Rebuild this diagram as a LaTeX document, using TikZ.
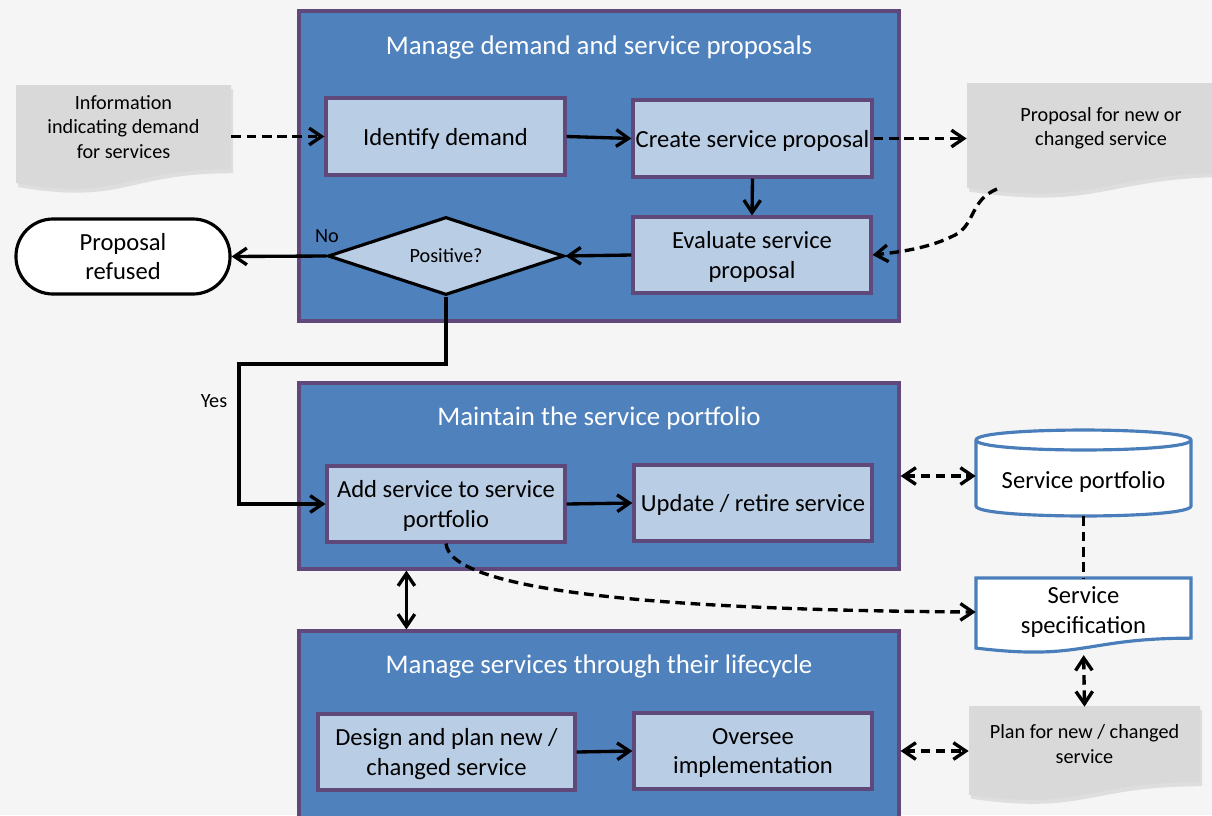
\documentclass[tikz,border=0pt]{standalone}
\usepackage{fontspec}
\setmainfont{Carlito}
\usetikzlibrary{shapes.geometric,arrows.meta}
\definecolor{bgc}{HTML}{F5F5F5}
\definecolor{blu}{HTML}{4F81BD}
\definecolor{purp}{HTML}{5F497A}
\definecolor{lblu}{HTML}{B9CDE5}
\definecolor{sblue}{HTML}{4A7EBB}
\definecolor{docg}{HTML}{D9D9D9}
\newcommand\docshape[5]{%
  \path[#5] (#1,#2) -- (#3,#2) -- (#3,{#2+0.802*#4})
    .. controls ({(#1+#3)/2},{#2+0.802*#4}) and ({(#1+#3)/2},{#2+1.108*#4}) ..
    (#1,{#2+0.934*#4}) -- cycle;}
\tikzset{barb/.tip={Straight Barb[length=7pt,width=9.5pt]}}
\begin{document}
\begin{tikzpicture}[x=0.02cm,y=-0.02cm,
  sz/.style 2 args={minimum width=#1*0.02cm,minimum height=#2*0.02cm},
  bigbox/.style={draw=purp,fill=blu,line width=1.8pt},
  stepbox/.style={draw=purp,fill=lblu,line width=1.8pt,align=center,font=\fontsize{14}{17}\selectfont,inner sep=0pt,text depth=-1pt},
  steptext/.style={align=center,font=\fontsize{14}{17}\selectfont,inner sep=0pt},
  titletext/.style={text=white,font=\fontsize{15.3}{18}\selectfont},
  smalltxt/.style={align=center,font=\fontsize{11.5}{13.8}\selectfont,inner sep=0pt},
  ghost/.style={inner sep=0pt,draw=none},
  flow/.style={line width=1.9pt,-barb},
  dflow/.style={line width=1.9pt,-barb,dash pattern=on 5.5pt off 3.2pt},
  bflow/.style={line width=1.9pt,barb-barb},
  bdflow/.style={line width=1.9pt,barb-barb,dash pattern=on 5.5pt off 3.2pt},
  dline/.style={line width=1.9pt,dash pattern=on 5.5pt off 3.2pt},
  docshadow/.style={fill=black!13,shift={(2,4)}},
]
\useasboundingbox (0,0) rectangle (1212,815);
\fill[bgc] (0,0) rectangle (1212,815);
\clip (0,0) rectangle (1212,815);

% ---- big containers
\node[bigbox,sz={600}{310}] (mdp) at (599,166) {};
\node[titletext] (t1) at (599,47) {Manage demand and service proposals};
\node[bigbox,sz={600}{186}] (mt) at (599,476) {};
\node[titletext] (t2) at (599,418) {Maintain the service portfolio};
\node[bigbox,sz={600}{220}] (lc) at (599,741) {};
\node[titletext] (t3) at (599,666) {Manage services through their lifecycle};

% ---- steps
\node[stepbox,sz={239}{77}] (ident) at (445.5,136.5) {Identify demand};
\node[stepbox,sz={239}{77}] (create) at (752.5,138.5) {Create service proposal};
\node[stepbox,sz={238}{76}] (eval) at (752,255) {Evaluate service\\proposal};
\node[diamond,aspect=3,draw=black,fill=lblu,line width=1.8pt,inner sep=0pt,sz={236}{78},smalltxt] (pos) at (446,256) {Positive?};
\node[draw=black,fill=white,line width=1.8pt,rounded corners=0.74cm,sz={214}{75},steptext] (ref) at (123,256.5) {Proposal\\refused};
\node[stepbox,sz={238}{76}] (add) at (446,504) {Add service to service\\portfolio};
\node[stepbox,sz={238}{76}] (upd) at (753,503) {Update / retire service};
\node[stepbox,sz={257}{76}] (design) at (446.5,752) {Design and plan new /\\changed service};
\node[stepbox,sz={238}{76}] (over) at (753,751) {Oversee\\implementation};

% ---- documents
\docshape{16}{85}{231}{105}{docshadow}
\docshape{16}{85}{231}{105}{fill=docg}
\node[ghost,smalltxt,sz={215}{86}] (info) at (123.5,127) {Information\\indicating demand\\for services};

\docshape{967}{83}{1235}{112}{docshadow}
\docshape{967}{83}{1235}{112}{fill=docg}
\node[ghost,smalltxt,sz={268}{90}] (prop) at (1101,128) {Proposal for new or\\changed service};

\docshape{976}{578}{1191}{75}{fill=white,draw=sblue,line width=1.8pt}
\node[ghost,steptext,sz={215}{68}] (spec) at (1083.5,612) {Service\\specification};

\docshape{969}{706}{1200}{95}{docshadow}
\docshape{969}{706}{1200}{95}{fill=docg}
\node[ghost,smalltxt,sz={231}{74}] (plan) at (1084.5,744) {Plan for new / changed\\service};

% ---- cylinder
\path[fill=white,draw=sblue,line width=1.8pt] (976,440) -- (976,506)
  .. controls (976,519.3) and (1191,519.3) .. (1191,506) -- (1191,440)
  .. controls (1191,426.7) and (976,426.7) .. (976,440) -- cycle;
\draw[sblue,line width=1.8pt] (976,440) .. controls (976,453.3) and (1191,453.3) .. (1191,440);
\node[ghost,sz={215}{86}] (cyl) at (1083.5,473) {};
\node[steptext] (cyltxt) at (1083.5,482) {Service portfolio};

% ---- labels
\node[smalltxt] (no) at (327,236) {No};
\node[smalltxt] (yes) at (214,401) {Yes};

% ---- connectors
\draw[dflow] (info.east |- ident.west) -- (ident.west);
\draw[flow] (ident.east) -- (create.west);
\draw[dflow] (create.east) -- (create.east -| prop.west);
\draw[flow] (create.south) -- (eval.north);
\draw[flow] (eval.west) -- (pos.east);
\draw[flow] (pos.west) -- (ref.east);
\coordinate (pe) at (997,189);
\draw[dflow] (pe) .. controls (970,200) and (975,225) .. (955,235)
  .. controls (930,248) and (900,252) .. (eval.east);
\coordinate (ybend) at (239,364);
\draw[flow] (pos.south) |- (ybend) |- (add.west);
\draw[flow] (add.east) -- (upd.west);
\draw[bdflow] (mt.east) -- (mt.east -| cyl.west);
\draw[dflow] (add.south) .. controls (450,590) and (650,610) .. (spec.west);
\draw[dline] (cyl.south) -- (spec.north);
\draw[bdflow,shorten <=5pt] (spec.south) -- (plan.north);
\draw[bflow] ([xshift=109*0.02cm]mt.south west) -- ([xshift=109*0.02cm]lc.north west);
\draw[flow] (design.east) -- (over.west);
\draw[bdflow] (over.east -| lc.east) -- (over.east -| plan.west);
\end{tikzpicture}
\end{document}
